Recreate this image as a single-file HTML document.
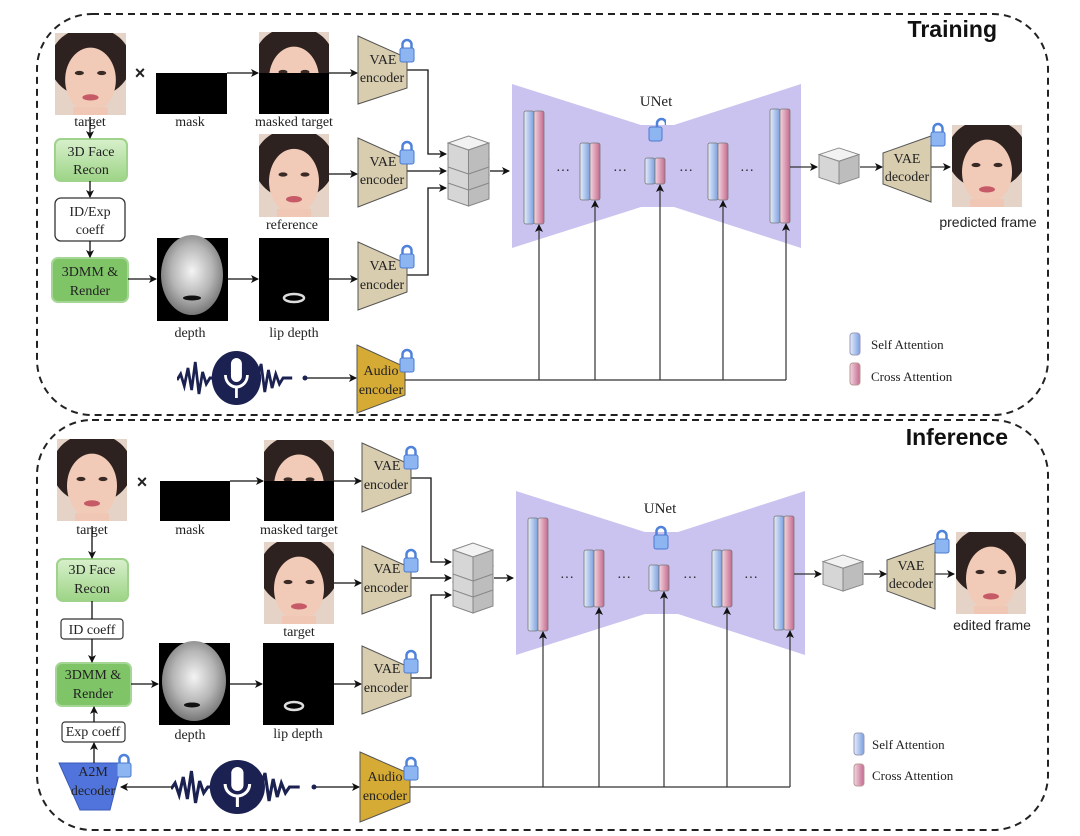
<!DOCTYPE html>
<html><head><meta charset="utf-8"><style>
html,body{margin:0;padding:0;background:#fff;}
svg{display:block;}
text{font-family:"Liberation Serif",serif;fill:#222;}
.s{font-family:"Liberation Sans",sans-serif;}
</style></head><body>
<svg width="1080" height="836" viewBox="0 0 1080 836" xmlns="http://www.w3.org/2000/svg">
<defs>
<marker id="ar" markerWidth="8" markerHeight="8" refX="7" refY="4" orient="auto" markerUnits="userSpaceOnUse"><path d="M0,0 L8,4 L0,8 L2,4 Z" fill="#111"/></marker>
<linearGradient id="gb" x1="0" x2="1" y1="0" y2="0"><stop offset="0" stop-color="#e6edf9"/><stop offset="1" stop-color="#7b9fe0"/></linearGradient>
<linearGradient id="gp" x1="0" x2="1" y1="0" y2="0"><stop offset="0" stop-color="#f3d6e0"/><stop offset="1" stop-color="#c46a8e"/></linearGradient>
<linearGradient id="gg" x1="0" x2="0" y1="0" y2="1"><stop offset="0" stop-color="#d8f0cc"/><stop offset="1" stop-color="#9dd486"/></linearGradient>
<radialGradient id="gd" cx="0.5" cy="0.45" r="0.55"><stop offset="0" stop-color="#f4f4f4"/><stop offset="0.6" stop-color="#b5b5b5"/><stop offset="1" stop-color="#777"/></radialGradient>
<symbol id="face" viewBox="0 0 70 84" preserveAspectRatio="none">
<rect width="70" height="84" fill="#e6d3c8"/>
<ellipse cx="35" cy="30" rx="40" ry="36" fill="#2e2220"/>
<ellipse cx="35" cy="48" rx="25" ry="33" fill="#f1cbb8"/>
<rect x="18" y="76" width="34" height="8" fill="#efc7b4"/>
<ellipse cx="24" cy="41" rx="4.5" ry="2.2" fill="#3a2a25"/>
<ellipse cx="46" cy="41" rx="4.5" ry="2.2" fill="#3a2a25"/>
<ellipse cx="35" cy="66" rx="8" ry="3.2" fill="#c65a66"/>
</symbol>
<symbol id="lock" viewBox="0 0 16 26"><path d="M3.5,13 V7.5 a4.5,4.5 0 0 1 9,0 V13" stroke="#4f82db" stroke-width="2.5" fill="none"/><rect x="1" y="11" width="14" height="14" rx="2" fill="#8db5f2" stroke="#4a7ad0"/></symbol>
<symbol id="unlock" viewBox="0 0 16 26"><path d="M8,13 V7.5 a4.5,4.5 0 0 1 9,0 V9" stroke="#4f82db" stroke-width="2.5" fill="none"/><rect x="0" y="11" width="13" height="14" rx="2" fill="#8db5f2" stroke="#4a7ad0"/></symbol>
<symbol id="cube" viewBox="0 0 42 40" preserveAspectRatio="none">
<path d="M1,8 L21,1 L41,8 L21,15 Z" fill="#f2f2f2" stroke="#888"/>
<path d="M1,8 L21,15 L21,39 L1,32 Z" fill="#d6d6d6" stroke="#888"/>
<path d="M21,15 L41,8 L41,32 L21,39 Z" fill="#bdbdbd" stroke="#888"/>
</symbol>
<symbol id="wave" viewBox="0 0 140 60" preserveAspectRatio="none">
<polyline points="0,32 4,26 8,38 12,20 16,42 20,14 24,46 28,24 32,36 36,30 44,30" fill="none" stroke="#1b2150" stroke-width="3"/>
<polyline points="88,30 92,16 96,44 100,22 104,40 108,26 112,36 116,30 126,30" fill="none" stroke="#1b2150" stroke-width="3"/>
<circle cx="65" cy="30" r="27" fill="#1b2150"/>
<rect x="59" y="10" width="12" height="24" rx="6" fill="#fff"/>
<path d="M53,27 a12,12 0 0 0 24,0" fill="none" stroke="#fff" stroke-width="3"/>
<line x1="65" y1="39" x2="65" y2="50" stroke="#fff" stroke-width="3"/>
</symbol>
</defs>

<!-- panels -->
<rect x="37" y="14" width="1011" height="401" rx="55" fill="none" stroke="#222" stroke-width="2" stroke-dasharray="7,5"/>
<rect x="37" y="420" width="1011" height="410" rx="55" fill="none" stroke="#222" stroke-width="2" stroke-dasharray="7,5"/>
<text x="997" y="37" text-anchor="end" class="s" font-size="23" font-weight="bold" style="fill:#111">Training</text>
<text x="1008" y="445" text-anchor="end" class="s" font-size="23" font-weight="bold" style="fill:#111">Inference</text>

<g font-size="14" fill="none">
<!-- ============ TRAINING LEFT ============ -->
<use href="#face" x="55" y="33" width="71" height="82"/>
<text x="90" y="126" text-anchor="middle" font-size="14">target</text>
<text x="140" y="79" text-anchor="middle" font-size="18" font-weight="bold" class="s">×</text>
<rect x="156" y="73" width="71" height="41" fill="#000"/>
<text x="190" y="126" text-anchor="middle" font-size="14">mask</text>
<use href="#face" x="259" y="32" width="70" height="82"/>
<rect x="259" y="73" width="70" height="41" fill="#000"/>
<text x="294" y="126" text-anchor="middle" font-size="14">masked target</text>
<use href="#face" x="259" y="134" width="70" height="83"/>
<text x="292" y="229" text-anchor="middle" font-size="14">reference</text>
<rect x="157" y="238" width="71" height="83" fill="#000"/>
<ellipse cx="192" cy="275" rx="31" ry="40" fill="url(#gd)"/>
<ellipse cx="192" cy="298" rx="9" ry="2.5" fill="#111"/>
<text x="190" y="337" text-anchor="middle" font-size="14">depth</text>
<rect x="259" y="238" width="70" height="83" fill="#000"/>
<ellipse cx="294" cy="298" rx="10" ry="4" fill="none" stroke="#ddd" stroke-width="2.5"/>
<text x="294" y="337" text-anchor="middle" font-size="14">lip depth</text>

<rect x="55" y="139" width="72" height="42" rx="6" fill="url(#gg)" stroke="#9fd38b" stroke-width="2"/>
<text x="91" y="156" text-anchor="middle" font-size="14">3D Face</text>
<text x="91" y="174" text-anchor="middle" font-size="14">Recon</text>
<rect x="55" y="198" width="70" height="43" rx="6" fill="#fff" stroke="#333" stroke-width="1.3"/>
<text x="90" y="216" text-anchor="middle" font-size="14">ID/Exp</text>
<text x="90" y="234" text-anchor="middle" font-size="14">coeff</text>
<rect x="52" y="258" width="76" height="44" rx="6" fill="#7fc567" stroke="#a6d696" stroke-width="2"/>
<text x="90" y="276" text-anchor="middle" font-size="14">3DMM &amp;</text>
<text x="90" y="295" text-anchor="middle" font-size="14">Render</text>

<g stroke="#111" stroke-width="1.3" marker-end="url(#ar)">
<line x1="90" y1="117" x2="90" y2="138"/>
<line x1="90" y1="181" x2="90" y2="197"/>
<line x1="90" y1="241" x2="90" y2="257"/>
<line x1="128" y1="279" x2="156" y2="279"/>
<line x1="228" y1="279" x2="258" y2="279"/>
<line x1="329" y1="279" x2="357" y2="279"/>
<line x1="227" y1="73" x2="258" y2="73"/>
<line x1="329" y1="73" x2="357" y2="73"/>
<line x1="329" y1="174" x2="357" y2="174"/>
<line x1="305" y1="378" x2="356" y2="378"/>
<polyline points="407,70 428,70 428,154 446,154" fill="none"/>
<line x1="407" y1="171" x2="446" y2="171"/>
<polyline points="407,275 428,275 428,188 446,188" fill="none"/>
<line x1="490" y1="171" x2="509" y2="171"/>
</g>
<use href="#wave" x="177" y="348" width="128" height="60"/>
<circle cx="305" cy="378" r="2.5" fill="#1b2150"/>

<polygon points="358,36 407,58 407,88 358,104" fill="#d9cdb0" stroke="#555"/>
<text x="383" y="64" text-anchor="middle" font-size="14">VAE</text><text x="382" y="82" text-anchor="middle" font-size="14">encoder</text>
<polygon points="358,138 407,160 407,188 358,207" fill="#d9cdb0" stroke="#555"/>
<text x="383" y="166" text-anchor="middle" font-size="14">VAE</text><text x="382" y="184" text-anchor="middle" font-size="14">encoder</text>
<polygon points="358,242 407,264 407,292 358,310" fill="#d9cdb0" stroke="#555"/>
<text x="383" y="270" text-anchor="middle" font-size="14">VAE</text><text x="382" y="289" text-anchor="middle" font-size="14">encoder</text>
<polygon points="357,345 405,367 405,395 357,413" fill="#d6ab35" stroke="#555"/>
<text x="381" y="375" text-anchor="middle" font-size="14">Audio</text><text x="381" y="394" text-anchor="middle" font-size="14">encoder</text>
<use href="#lock" x="399" y="37" width="16" height="26"/>
<use href="#lock" x="399" y="139" width="16" height="26"/>
<use href="#lock" x="399" y="243" width="16" height="26"/>
<use href="#lock" x="399" y="347" width="16" height="26"/>
<use href="#cube" x="447" y="167" width="43" height="40"/>
<use href="#cube" x="447" y="151" width="43" height="40"/>
<use href="#cube" x="447" y="135" width="43" height="40"/>

<!-- ============ TRAINING RIGHT ============ -->
<g>
<polygon points="512,84 641,125 674,125 801,84 801,248 674,207 641,207 512,248" fill="#cbc3ef"/>
<text x="656" y="106" text-anchor="middle" font-size="15">UNet</text>
<use href="#unlock" x="648" y="116" width="18" height="26"/>
<g stroke="#777" stroke-width="0.8">
<rect x="524" y="111" width="10" height="113" rx="2" fill="url(#gb)"/><rect x="534" y="111" width="10" height="113" rx="2" fill="url(#gp)"/>
<rect x="580" y="143" width="10" height="57" rx="2" fill="url(#gb)"/><rect x="590" y="143" width="10" height="57" rx="2" fill="url(#gp)"/>
<rect x="645" y="158" width="10" height="26" rx="2" fill="url(#gb)"/><rect x="655" y="158" width="10" height="26" rx="2" fill="url(#gp)"/>
<rect x="708" y="143" width="10" height="57" rx="2" fill="url(#gb)"/><rect x="718" y="143" width="10" height="57" rx="2" fill="url(#gp)"/>
<rect x="770" y="109" width="10" height="114" rx="2" fill="url(#gb)"/><rect x="780" y="109" width="10" height="114" rx="2" fill="url(#gp)"/>
</g>
<text x="563" y="175" text-anchor="middle" font-size="14">···</text>
<text x="620" y="175" text-anchor="middle" font-size="14">···</text>
<text x="686" y="175" text-anchor="middle" font-size="14">···</text>
<text x="747" y="175" text-anchor="middle" font-size="14">···</text>
<g stroke="#333" stroke-width="1.2">
<line x1="405" y1="380" x2="786" y2="380"/>
<line x1="539" y1="380" x2="539" y2="225" marker-end="url(#ar)"/>
<line x1="595" y1="380" x2="595" y2="201" marker-end="url(#ar)"/>
<line x1="660" y1="380" x2="660" y2="185" marker-end="url(#ar)"/>
<line x1="723" y1="380" x2="723" y2="201" marker-end="url(#ar)"/>
<line x1="786" y1="380" x2="786" y2="224" marker-end="url(#ar)"/>
<line x1="790" y1="167" x2="817" y2="167" marker-end="url(#ar)"/>
<line x1="860" y1="167" x2="882" y2="167" marker-end="url(#ar)"/>
<line x1="931" y1="167" x2="950" y2="167" marker-end="url(#ar)"/>
</g>
<use href="#cube" x="818" y="147" width="42" height="38"/>
<polygon points="883,153 931,136 931,202 883,184" fill="#d9cdb0" stroke="#555"/>
<text x="907" y="163" text-anchor="middle" font-size="14">VAE</text><text x="907" y="181" text-anchor="middle" font-size="14">decoder</text>
<use href="#lock" x="930" y="121" width="16" height="26"/>
<use href="#face" x="952" y="125" width="70" height="82"/>
<text x="988" y="227" text-anchor="middle" font-size="14" class="s">predicted frame</text>
<rect x="850" y="333" width="10" height="22" rx="3" fill="url(#gb)" stroke="#99b"/>
<text x="871" y="349" font-size="13">Self Attention</text>
<rect x="850" y="363" width="10" height="22" rx="3" fill="url(#gp)" stroke="#b99"/>
<text x="871" y="381" font-size="13">Cross Attention</text>
</g>

<!-- ============ INFERENCE LEFT ============ -->
<use href="#face" x="57" y="439" width="70" height="82"/>
<text x="92" y="534" text-anchor="middle" font-size="14">target</text>
<text x="142" y="488" text-anchor="middle" font-size="18" font-weight="bold" class="s">×</text>
<rect x="160" y="481" width="70" height="40" fill="#000"/>
<text x="190" y="534" text-anchor="middle" font-size="14">mask</text>
<use href="#face" x="264" y="440" width="70" height="81"/>
<rect x="264" y="481" width="70" height="40" fill="#000"/>
<text x="299" y="534" text-anchor="middle" font-size="14">masked target</text>
<use href="#face" x="264" y="542" width="70" height="82"/>
<text x="299" y="636" text-anchor="middle" font-size="14">target</text>
<rect x="159" y="643" width="71" height="82" fill="#000"/>
<ellipse cx="194" cy="681" rx="32" ry="40" fill="url(#gd)"/>
<ellipse cx="192" cy="705" rx="8" ry="2.5" fill="#111"/>
<text x="190" y="739" text-anchor="middle" font-size="14">depth</text>
<rect x="263" y="643" width="71" height="82" fill="#000"/>
<ellipse cx="294" cy="706" rx="9" ry="4" fill="none" stroke="#ddd" stroke-width="2.5"/>
<text x="298" y="738" text-anchor="middle" font-size="14">lip depth</text>

<rect x="57" y="559" width="71" height="42" rx="6" fill="url(#gg)" stroke="#9fd38b" stroke-width="2"/>
<text x="92" y="574" text-anchor="middle" font-size="14">3D Face</text>
<text x="92" y="593" text-anchor="middle" font-size="14">Recon</text>
<rect x="61" y="619" width="62" height="20" rx="3" fill="#fff" stroke="#333" stroke-width="1.2"/>
<text x="92" y="634" text-anchor="middle" font-size="14">ID coeff</text>
<rect x="56" y="663" width="75" height="43" rx="6" fill="#7fc567" stroke="#a6d696" stroke-width="2"/>
<text x="93" y="679" text-anchor="middle" font-size="14">3DMM &amp;</text>
<text x="93" y="698" text-anchor="middle" font-size="14">Render</text>
<rect x="62" y="722" width="63" height="20" rx="3" fill="#fff" stroke="#333" stroke-width="1.2"/>
<text x="93" y="736" text-anchor="middle" font-size="14">Exp coeff</text>
<polygon points="59,763 122,763 110,810 80,810" fill="#5074dc" stroke="#3a5ab8"/>
<text x="93" y="776" text-anchor="middle" font-size="14">A2M</text>
<text x="93" y="795" text-anchor="middle" font-size="14">decoder</text>
<use href="#lock" x="116" y="752" width="16" height="26"/>

<g stroke="#111" stroke-width="1.3">
<line x1="92" y1="526" x2="92" y2="558" marker-end="url(#ar)"/>
<line x1="92" y1="601" x2="92" y2="619"/>
<line x1="92" y1="639" x2="92" y2="662" marker-end="url(#ar)"/>
<line x1="94" y1="722" x2="94" y2="707" marker-end="url(#ar)"/>
<line x1="94" y1="763" x2="94" y2="743" marker-end="url(#ar)"/>
<line x1="171" y1="787" x2="121" y2="787" marker-end="url(#ar)"/>
<line x1="131" y1="684" x2="158" y2="684" marker-end="url(#ar)"/>
<line x1="230" y1="684" x2="262" y2="684" marker-end="url(#ar)"/>
<line x1="334" y1="684" x2="361" y2="684" marker-end="url(#ar)"/>
<line x1="230" y1="481" x2="263" y2="481" marker-end="url(#ar)"/>
<line x1="334" y1="481" x2="361" y2="481" marker-end="url(#ar)"/>
<line x1="334" y1="583" x2="361" y2="583" marker-end="url(#ar)"/>
<line x1="314" y1="787" x2="359" y2="787" marker-end="url(#ar)"/>
<polyline points="411,478 431,478 431,562 451,562" fill="none" marker-end="url(#ar)"/>
<line x1="411" y1="578" x2="451" y2="578" marker-end="url(#ar)"/>
<polyline points="411,678 431,678 431,595 451,595" fill="none" marker-end="url(#ar)"/>
<line x1="494" y1="578" x2="513" y2="578" marker-end="url(#ar)"/>
</g>
<use href="#wave" x="171" y="757" width="143" height="60"/>
<circle cx="314" cy="787" r="2.5" fill="#1b2150"/>

<polygon points="362,443 411,465 411,493 362,512" fill="#d9cdb0" stroke="#555"/>
<text x="387" y="470" text-anchor="middle" font-size="14">VAE</text><text x="386" y="489" text-anchor="middle" font-size="14">encoder</text>
<polygon points="362,546 411,568 411,596 362,614" fill="#d9cdb0" stroke="#555"/>
<text x="387" y="573" text-anchor="middle" font-size="14">VAE</text><text x="386" y="592" text-anchor="middle" font-size="14">encoder</text>
<polygon points="362,646 411,668 411,696 362,714" fill="#d9cdb0" stroke="#555"/>
<text x="387" y="673" text-anchor="middle" font-size="14">VAE</text><text x="386" y="692" text-anchor="middle" font-size="14">encoder</text>
<polygon points="360,752 410,774 410,802 360,822" fill="#d6ab35" stroke="#555"/>
<text x="385" y="781" text-anchor="middle" font-size="14">Audio</text><text x="385" y="800" text-anchor="middle" font-size="14">encoder</text>
<use href="#lock" x="403" y="444" width="16" height="26"/>
<use href="#lock" x="403" y="547" width="16" height="26"/>
<use href="#lock" x="403" y="648" width="16" height="26"/>
<use href="#lock" x="403" y="755" width="16" height="26"/>
<use href="#cube" x="452" y="574" width="42" height="40"/>
<use href="#cube" x="452" y="558" width="42" height="40"/>
<use href="#cube" x="452" y="542" width="42" height="40"/>

<!-- ============ INFERENCE RIGHT ============ -->
<g transform="translate(4,407)">
<polygon points="512,84 641,125 674,125 801,84 801,248 674,207 641,207 512,248" fill="#cbc3ef"/>
<text x="656" y="106" text-anchor="middle" font-size="15">UNet</text>
<use href="#lock" x="649" y="117" width="16" height="26"/>
<g stroke="#777" stroke-width="0.8">
<rect x="524" y="111" width="10" height="113" rx="2" fill="url(#gb)"/><rect x="534" y="111" width="10" height="113" rx="2" fill="url(#gp)"/>
<rect x="580" y="143" width="10" height="57" rx="2" fill="url(#gb)"/><rect x="590" y="143" width="10" height="57" rx="2" fill="url(#gp)"/>
<rect x="645" y="158" width="10" height="26" rx="2" fill="url(#gb)"/><rect x="655" y="158" width="10" height="26" rx="2" fill="url(#gp)"/>
<rect x="708" y="143" width="10" height="57" rx="2" fill="url(#gb)"/><rect x="718" y="143" width="10" height="57" rx="2" fill="url(#gp)"/>
<rect x="770" y="109" width="10" height="114" rx="2" fill="url(#gb)"/><rect x="780" y="109" width="10" height="114" rx="2" fill="url(#gp)"/>
</g>
<text x="563" y="175" text-anchor="middle" font-size="14">···</text>
<text x="620" y="175" text-anchor="middle" font-size="14">···</text>
<text x="686" y="175" text-anchor="middle" font-size="14">···</text>
<text x="747" y="175" text-anchor="middle" font-size="14">···</text>
<g stroke="#333" stroke-width="1.2">
<line x1="406" y1="380" x2="786" y2="380"/>
<line x1="539" y1="380" x2="539" y2="225" marker-end="url(#ar)"/>
<line x1="595" y1="380" x2="595" y2="201" marker-end="url(#ar)"/>
<line x1="660" y1="380" x2="660" y2="185" marker-end="url(#ar)"/>
<line x1="723" y1="380" x2="723" y2="201" marker-end="url(#ar)"/>
<line x1="786" y1="380" x2="786" y2="224" marker-end="url(#ar)"/>
<line x1="790" y1="167" x2="817" y2="167" marker-end="url(#ar)"/>
<line x1="860" y1="167" x2="882" y2="167" marker-end="url(#ar)"/>
<line x1="931" y1="167" x2="950" y2="167" marker-end="url(#ar)"/>
</g>
<use href="#cube" x="818" y="147" width="42" height="38"/>
<polygon points="883,153 931,136 931,202 883,184" fill="#d9cdb0" stroke="#555"/>
<text x="907" y="163" text-anchor="middle" font-size="14">VAE</text><text x="907" y="181" text-anchor="middle" font-size="14">decoder</text>
<use href="#lock" x="930" y="121" width="16" height="26"/>
<use href="#face" x="952" y="125" width="70" height="82"/>
<text x="988" y="223" text-anchor="middle" font-size="14" class="s">edited frame</text>
<rect x="850" y="326" width="10" height="22" rx="3" fill="url(#gb)" stroke="#99b"/>
<text x="868" y="342" font-size="13">Self Attention</text>
<rect x="850" y="357" width="10" height="22" rx="3" fill="url(#gp)" stroke="#b99"/>
<text x="868" y="373" font-size="13">Cross Attention</text>
</g>
</g>
</svg>
</body></html>
